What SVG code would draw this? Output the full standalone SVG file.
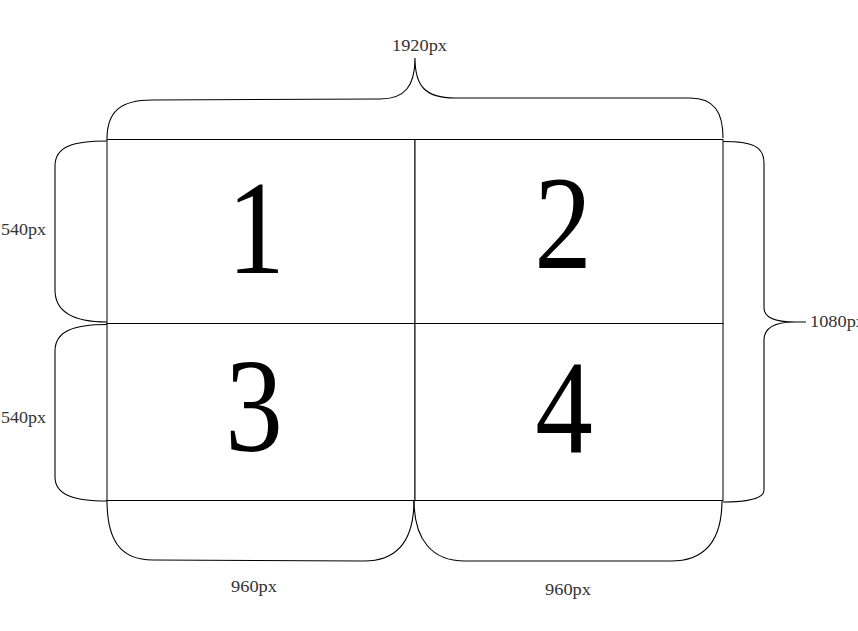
<svg xmlns="http://www.w3.org/2000/svg" width="858" height="631" viewBox="0 0 858 631">
<style>
.cell{fill:#fff;stroke:#000;stroke-width:1}
.num{font-family:"Liberation Serif","Times New Roman",serif;font-size:134px;fill:#000;text-anchor:middle}
.brace{fill:none;stroke:#000;stroke-width:1.1}
.lbl{font-family:"Liberation Serif","Times New Roman",serif;font-size:17px;fill:#333}
</style>
<rect width="858" height="631" fill="#fff"/>
<g id="cell1"><rect class="cell" x="107" y="139.5" width="308" height="184"/><text class="num" transform="translate(256,273) scale(0.86,1)">1</text></g>
<g id="cell2"><rect class="cell" x="415" y="139.5" width="308" height="184"/><text class="num" transform="translate(563,268) scale(0.86,1)">2</text></g>
<g id="cell3"><rect class="cell" x="107" y="323.5" width="308" height="177"/><text class="num" transform="translate(254,451) scale(0.86,1)">3</text></g>
<g id="cell4"><rect class="cell" x="415" y="323.5" width="308" height="177"/><text class="num" transform="translate(564,452) scale(0.86,1)">4</text></g>
<g id="connectors">
<path class="brace" d="M107,139 C107,112 120,100 152,100 L380,99 C405,99 415,86 415,58 C415,86 425,98 455,98 L690,98 C714,98 723,112 723,138"/>
<path class="brace" d="M107,141 C74,141 55,146 55,166 L55,290 C55,312 74,322 107,322"/>
<path class="brace" d="M107,324.5 C74,324.5 55,331 55,351 L55,477 C55,495 74,501 107,501"/>
<path class="brace" d="M723,141.5 C752,141.5 764,146 764,163 L764,308 C764,318 776,322 795,322 L806,322 M795,322 C776,322 764,327 764,340 L764,490 C764,498 752,502 723,502"/>
<path class="brace" d="M107,500 C107,540 120,560 153,560 L364,561 C398,561 414,540 414,500"/>
<path class="brace" d="M414,500 C414,540 432,561 465,561 L671,561 C705,561 722,540 722,500"/>
</g>
<g id="labels">
<text class="lbl" x="392" y="51" textLength="55" lengthAdjust="spacingAndGlyphs">1920px</text>
<text class="lbl" x="1" y="235" textLength="45" lengthAdjust="spacingAndGlyphs">540px</text>
<text class="lbl" x="1" y="423" textLength="45" lengthAdjust="spacingAndGlyphs">540px</text>
<text class="lbl" x="810" y="327" textLength="55" lengthAdjust="spacingAndGlyphs">1080px</text>
<text class="lbl" x="231" y="592" textLength="46" lengthAdjust="spacingAndGlyphs">960px</text>
<text class="lbl" x="545" y="595" textLength="46" lengthAdjust="spacingAndGlyphs">960px</text>
</g>
</svg>
